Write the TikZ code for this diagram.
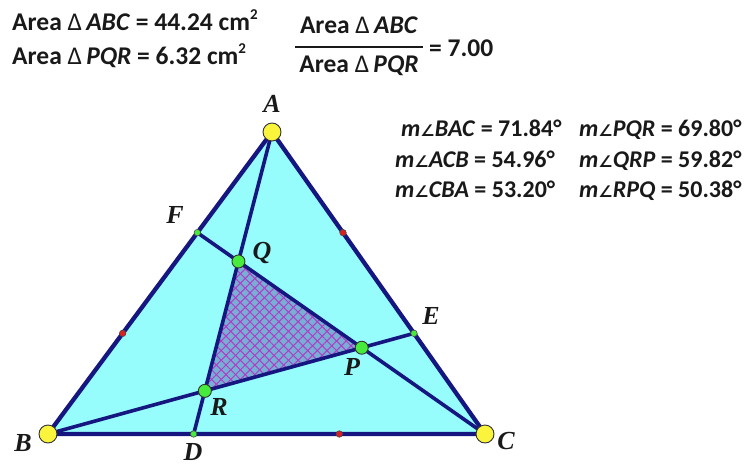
\documentclass[tikz,border=0pt]{standalone}
\usepackage{fontspec}
\setmainfont{Carlito}
\newfontfamily\labfont{Liberation Serif}
\newfontfamily\symfont{DejaVu Sans}
\usetikzlibrary{patterns.meta,calc}
\definecolor{cyanfill}{RGB}{150,252,252}
\definecolor{navy}{RGB}{22,22,128}
\definecolor{hatchbg}{RGB}{120,175,212}
\definecolor{hatchln}{RGB}{175,60,200}
\definecolor{txt}{RGB}{25,25,25}
\definecolor{ptyellow}{RGB}{250,245,60}
\definecolor{ptgreen}{RGB}{70,235,60}
\definecolor{ptred}{RGB}{220,30,30}
\newcommand\mytri{{\mdseries Δ}\,}
\newcommand\myang{{\symfont\fontsize{16}{16}\selectfont ∠}}
\newcommand\mysq{\raisebox{0.42em}{\fontsize{15}{15}\selectfont 2}}
\begin{document}
\begin{tikzpicture}[x=1pt,y=-1pt,
  side/.style={draw=navy,line width=4.3pt,line join=round,line cap=round},
  cev/.style={draw=navy,line width=3.6pt,line cap=round},
  bigpt/.style={circle,draw=black!80,line width=0.9pt,fill=ptyellow,minimum size=18pt,inner sep=0pt},
  midpt/.style={circle,draw=black!80,line width=0.9pt,fill=ptgreen,minimum size=13pt,inner sep=0pt},
  smallpt/.style={circle,draw=black!70,line width=0.6pt,fill=ptgreen,minimum size=6.5pt,inner sep=0pt},
  redpt/.style={circle,draw=black!70,line width=0.6pt,fill=ptred,minimum size=6.5pt,inner sep=0pt},
  lab/.style={font=\labfont\bfseries\itshape\fontsize{26}{26}\selectfont,text=txt,inner sep=0pt},
  meas/.style={font=\bfseries\fontsize{25.5}{28}\selectfont,text=txt,anchor=base west,inner sep=0pt},
  angm/.style={font=\bfseries\fontsize{24}{28}\selectfont,text=txt,anchor=base west,inner sep=0pt}
]
\useasboundingbox (0,0) rectangle (745,466);
\coordinate (A) at (272,132);
\coordinate (B) at (48,434);
\coordinate (C) at (485,434);
\coordinate (D) at ($(B)!1/3!(C)$);
\coordinate (E) at ($(C)!1/3!(A)$);
\coordinate (F) at ($(A)!1/3!(B)$);
\coordinate (Q) at (intersection of A--D and C--F);
\coordinate (P) at (intersection of B--E and C--F);
\coordinate (R) at (intersection of A--D and B--E);
\coordinate (M1) at ($(B)!1/3!(A)$);
\coordinate (M2) at ($(A)!1/3!(C)$);
\coordinate (M3) at ($(B)!2/3!(C)$);

% fills
\fill[cyanfill] (A) -- (B) -- (C) -- cycle;
\fill[hatchbg] (P) -- (Q) -- (R) -- cycle;
\fill[pattern={Lines[angle=45,distance=6.8pt,line width=1pt]},pattern color=hatchln] (P) -- (Q) -- (R) -- cycle;
\fill[pattern={Lines[angle=-45,distance=6.8pt,line width=1pt]},pattern color=hatchln] (P) -- (Q) -- (R) -- cycle;

% cevians
\draw[cev] (A) -- (D);
\draw[cev] (B) -- (E);
\draw[cev] (C) -- (F);
% sides
\draw[side] (A) -- (B) -- (C) -- cycle;

% points
\node[redpt] (r1) at (M1) {};
\node[redpt] (r2) at (M2) {};
\node[redpt] (r3) at (M3) {};
\node[smallpt] (pD) at (D) {};
\node[smallpt] (pE) at (E) {};
\node[smallpt] (pF) at (F) {};
\node[midpt] (pQ) at (Q) {};
\node[midpt] (pP) at (P) {};
\node[midpt] (pR) at (R) {};
\node[bigpt] (pA) at (A) {};
\node[bigpt] (pB) at (B) {};
\node[bigpt] (pC) at (C) {};

% labels
\node[lab] (lA) at (272,104) {A};
\node[lab] (lB) at (23,443) {B};
\node[lab] (lC) at (506,441) {C};
\node[lab] (lD) at (193,452) {D};
\node[lab] (lE) at (431,316) {E};
\node[lab] (lF) at (175,215) {F};
\node[lab] (lQ) at (262,253) {Q};
\node[lab] (lP) at (352,367) {P};
\node[lab] (lR) at (219,407) {R};

% measurements
\node[meas] (t1) at (12,30) {Area \mytri\textit{ABC} = 44.24 cm\mysq};
\node[meas] (t2) at (12,64) {Area \mytri\textit{PQR} = 6.32 cm\mysq};
\node[meas,anchor=base] (num) at (359,33) {Area \mytri\textit{ABC}};
\node[meas,anchor=base] (den) at (359,72) {Area \mytri\textit{PQR}};
\coordinate (fl) at (295,47);
\coordinate (fr) at (423,47);
\draw[txt,line width=1.4pt] (fl) -- (fr);
\node[meas] (ratio) at (429,56) {= 7.00};

\node[angm] (a1) at (401,136) {\textit{m}\myang\textit{BAC} = 71.84°};
\node[angm] (a2) at (395,167) {\textit{m}\myang\textit{ACB} = 54.96°};
\node[angm] (a3) at (395,197) {\textit{m}\myang\textit{CBA} = 53.20°};
\node[angm] (a4) at (579,136) {\textit{m}\myang\textit{PQR} = 69.80°};
\node[angm] (a5) at (579,167) {\textit{m}\myang\textit{QRP} = 59.82°};
\node[angm] (a6) at (579,197) {\textit{m}\myang\textit{RPQ} = 50.38°};
\end{tikzpicture}
\end{document}
